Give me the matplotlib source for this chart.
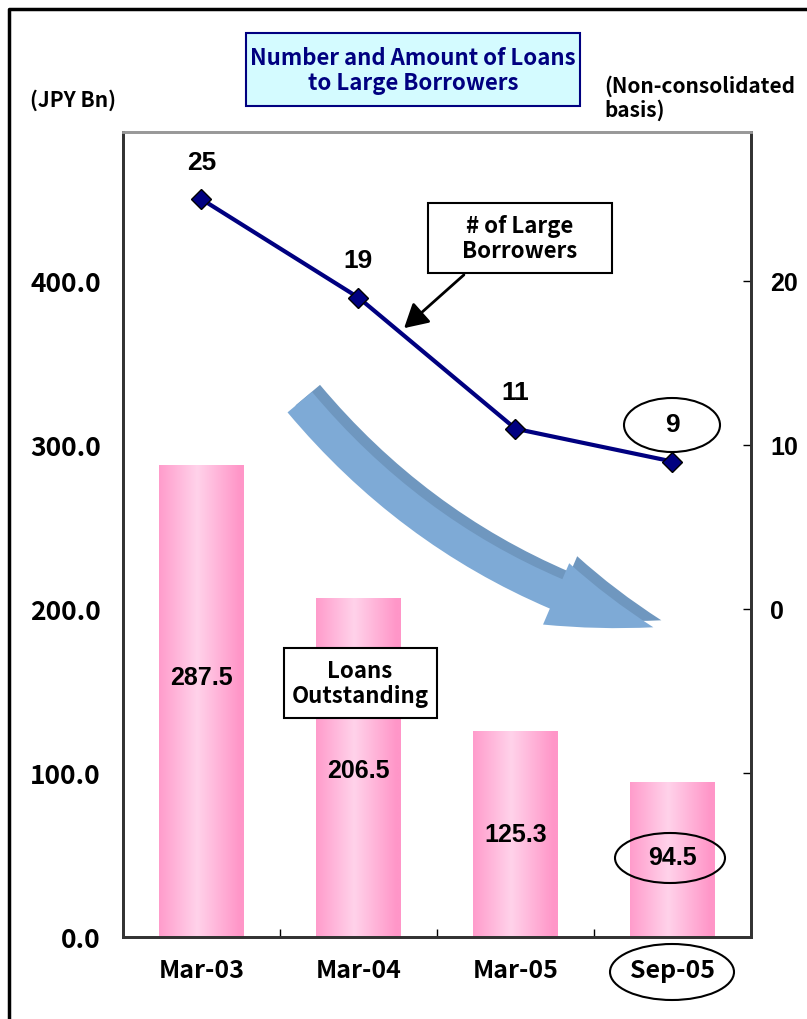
import matplotlib
matplotlib.use('Agg')
import matplotlib.pyplot as plt
import numpy as np
from matplotlib.colors import LinearSegmentedColormap
from matplotlib.patches import FancyArrowPatch, Ellipse, Rectangle
from matplotlib.lines import Line2D

periods = ['Mar-03', 'Mar-04', 'Mar-05', 'Sep-05']
loans = [287.5, 206.5, 125.3, 94.5]          # JPY Bn
borrowers = [25, 19, 11, 9]                  # number of large borrowers

W, H = 807, 1019

narrow = ['Noto Sans CJK JP', 'DejaVu Sans']
wide = ['Liberation Sans', 'DejaVu Sans']


def px(x, y):
    # figure pixel (top-left origin) -> figure fraction
    return x / W, 1 - y / H


def pxbox(x0, y0, x1, y1, **kw):
    a, b = px(x0, y1)
    c, d = px(x1, y0)
    return Rectangle((a, b), c - a, d - b, transform=fig.transFigure, **kw)


fig = plt.figure(figsize=(W / 100, H / 100), dpi=100)
ax = fig.add_axes([123 / W, 1 - 937 / H, (751 - 123) / W, (937 - 132) / H])
ax2 = ax.twinx()

# gradient pink bars
pink = LinearSegmentedColormap.from_list('pink', ['#ff96c8', '#ffd2ea'])
grad = 1 - np.abs(np.linspace(-1, 1, 200) + 0.1)
grad = np.clip(grad, 0, 1)[None, :]
bw = 0.54
x = np.arange(len(periods))
for xi, v in zip(x, loans):
    ax.imshow(grad, cmap=pink, aspect='auto', extent=[xi - bw / 2, xi + bw / 2, 0, v],
              zorder=1, interpolation='bilinear')

label_y = [158, 101, 62, 48]
for xi, v, ly in zip(x, loans, label_y):
    ax.text(xi, ly, '%.1f' % v, ha='center', va='center', fontsize=18,
            fontweight='bold', family=wide, zorder=3)

ax.set_xlim(-0.5, len(periods) - 0.5)
ax.set_ylim(0, 491)
ax.set_yticks([0, 100, 200, 300, 400])
ax.set_yticklabels(['%.1f' % t for t in [0, 100, 200, 300, 400]])
ax.set_xticks(x)
ax.set_xticklabels(periods)
ax.set_xticks(x[:-1] + 0.5, minor=True)
ax.tick_params(axis='x', which='major', length=0, pad=16)
ax.tick_params(axis='x', which='minor', direction='in', length=6, width=1)
ax.tick_params(axis='y', direction='in', length=0, pad=16)
for lab in ax.get_xticklabels():
    lab.set_fontweight('bold')
    lab.set_family(narrow)
    lab.set_fontsize(18)
for lab in ax.get_yticklabels():
    lab.set_fontweight('bold')
    lab.set_family(narrow)
    lab.set_fontsize(19)

# line of number of borrowers
ax2.plot(x, borrowers, color='#000080', lw=3, marker='D', markersize=10,
         markerfacecolor='#000080', markeredgecolor='black', markeredgewidth=1, zorder=4)
for xi, b in zip(x, borrowers):
    ax2.annotate(str(b), (xi, b), xytext=(0, 26), textcoords='offset points',
                 ha='center', va='center', fontsize=19, fontweight='bold', family=wide)
ax2.set_ylim(-20, 29.1)
ax2.set_yticks([-10, 0, 10, 20])
ax2.set_yticklabels(['', '0', '10', '20'])
ax2.tick_params(axis='y', direction='in', length=6, width=1, pad=14)
for lab in ax2.get_yticklabels():
    lab.set_fontweight('bold')
    lab.set_family(wide)
    lab.set_fontsize(18)

for a in (ax, ax2):
    for s in ('left', 'right', 'bottom'):
        a.spines[s].set_color('#333333')
        a.spines[s].set_linewidth(2)
    a.spines['top'].set_color('#999999')
    a.spines['top'].set_linewidth(2)
    a.set_facecolor('none')
ax.set_zorder(1)
ax2.set_zorder(2)

# outer frame
fig.add_artist(Line2D([px(9, 0)[0], px(9, 0)[0], 1], [0, px(0, 9)[1], px(0, 9)[1]],
                      color='black', lw=2.5, transform=fig.transFigure))

# curved blue arrow (3D look: dark side then face)
for off, col in [((8, -7), '#6f97bf'), ((0, 0), '#7eaad6')]:
    arr = FancyArrowPatch(px(298 + off[0], 400 + off[1]), px(656 + off[0], 628 + off[1]),
                          connectionstyle='arc3,rad=0.16',
                          arrowstyle='simple,head_length=74,head_width=48,tail_width=23',
                          color=col, lw=0, transform=fig.transFigure, zorder=3)
    fig.add_artist(arr)

# title box
fig.add_artist(pxbox(246, 33, 580, 106, facecolor='#d4fbff', edgecolor='#000080', lw=1.5))
fig.text(*px(413, 71), 'Number and Amount of Loans\nto Large Borrowers', ha='center',
         va='center', fontsize=16, fontweight='bold', color='#000080', family=narrow,
         linespacing=1.15)
fig.text(*px(30, 100), '(JPY Bn)', ha='left', va='center', fontsize=15,
         fontweight='bold', family=narrow)
fig.text(*px(604, 98), '(Non-consolidated\nbasis)', ha='left', va='center', fontsize=15,
         fontweight='bold', family=narrow, linespacing=1.15)

# callout boxes
fig.add_artist(pxbox(428, 203, 612, 273, facecolor='white', edgecolor='black', lw=1.5,
                     zorder=5))
fig.text(*px(520, 239), '# of Large\nBorrowers', ha='center', va='center', fontsize=16,
         fontweight='bold', family=narrow, linespacing=1.15, zorder=6)
fig.add_artist(pxbox(284, 648, 437, 718, facecolor='white', edgecolor='black', lw=1.5,
                     zorder=5))
fig.text(*px(360, 684), 'Loans\nOutstanding', ha='center', va='center', fontsize=16,
         fontweight='bold', family=narrow, linespacing=1.15, zorder=6)
fig.add_artist(FancyArrowPatch(px(466, 273), px(402, 330),
                               arrowstyle='-|>,head_length=0.8,head_width=0.45',
                               color='black', lw=2, mutation_scale=18,
                               transform=fig.transFigure, zorder=5))

# ellipses highlighting latest period
for cx, cy, ew, eh in [(672, 425, 96, 54), (670, 858, 110, 50), (672, 972, 124, 56)]:
    c = px(cx, cy)
    fig.add_artist(Ellipse(c, ew / W, eh / H, transform=fig.transFigure, fill=False,
                           edgecolor='black', lw=1.5, zorder=6))

fig.savefig('out.png', dpi=100)
